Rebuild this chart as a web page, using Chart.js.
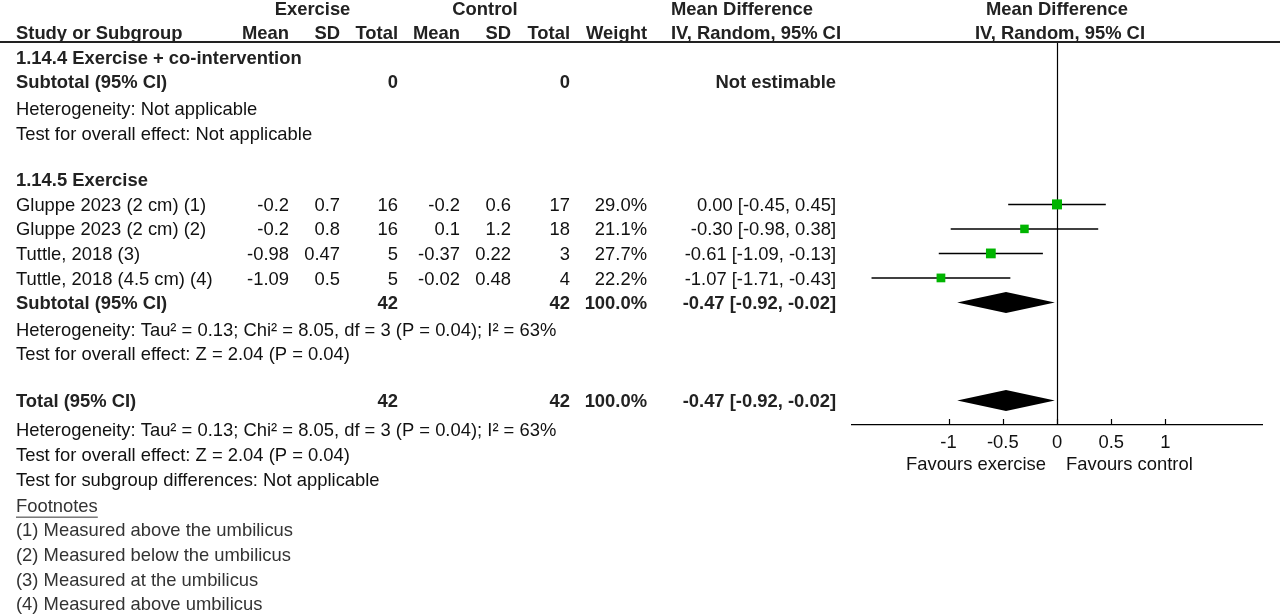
<!DOCTYPE html>
<html lang="en">
<head>
<meta charset="UTF-8">
<title>Forest plot – Exercise vs Control</title>
<script src="https://cdn.jsdelivr.net/npm/chart.js"></script>
<style>
body{margin:0;background:#fff}
#wrap{width:1280px;height:614px;position:relative}
</style>
</head>
<body>
<div id="wrap"><canvas id="forest" width="1280" height="614"></canvas></div>
<script>
/* --- Study data --- */
const studies  = ['Gluppe 2023 (2 cm) (1)','Gluppe 2023 (2 cm) (2)','Tuttle, 2018 (3)','Tuttle, 2018 (4.5 cm) (4)'];
const exMean   = [-0.2,-0.2,-0.98,-1.09];
const exSD     = [0.7,0.8,0.47,0.5];
const exN      = [16,16,5,5];
const ctlMean  = [-0.2,0.1,-0.37,-0.02];
const ctlSD    = [0.6,1.2,0.22,0.48];
const ctlN     = [17,18,3,4];
const weights  = [29.0,21.1,27.7,22.2];
const md       = [0.00,-0.30,-0.61,-1.07];
const ciLow    = [-0.45,-0.98,-1.09,-1.71];
const ciHigh   = [0.45,0.38,-0.13,-0.43];
const studyRows= [8,9,10,11];

/* --- Pooled estimates (subtotal, total) --- */
const pooledLabels = ['Subtotal (95% CI)','Total (95% CI)'];
const pooledExN    = [42,42];
const pooledCtlN   = [42,42];
const pooledWeight = [100.0,100.0];
const pooledMD     = [-0.47,-0.47];
const pooledLow    = [-0.92,-0.92];
const pooledHigh   = [-0.02,-0.02];
const pooledRows   = [12,16];

/* --- Axis --- */
const xTicks = [-1,-0.5,0,0.5,1];
const xLeftLabel = 'Favours exercise', xRightLabel = 'Favours control';

/* --- Text lines (row, text, bold) --- */
const noteLines = [
  [2,'1.14.4 Exercise + co-intervention',true],
  [4.1,'Heterogeneity: Not applicable',false],
  [5.1,'Test for overall effect: Not applicable',false],
  [7,'1.14.5 Exercise',true],
  [13.1,'Heterogeneity: Tau² = 0.13; Chi² = 8.05, df = 3 (P = 0.04); I² = 63%',false],
  [14.1,'Test for overall effect: Z = 2.04 (P = 0.04)',false],
  [17.2,'Heterogeneity: Tau² = 0.13; Chi² = 8.05, df = 3 (P = 0.04); I² = 63%',false],
  [18.2,'Test for overall effect: Z = 2.04 (P = 0.04)',false],
  [19.2,'Test for subgroup differences: Not applicable',false]
];
const footnotes = ['(1) Measured above the umbilicus','(2) Measured below the umbilicus','(3) Measured at the umbilicus','(4) Measured above umbilicus'];

/* --- Layout --- */
const FONT = '"Liberation Sans", Arial, Helvetica, sans-serif';
const SIZE = 18.4;
const COL = {study:16, exMean:289, exSD:340, exN:398, ctlMean:460, ctlSD:511, ctlN:570, weight:647, md:836, mdHead:671};

function put(ctx,s,x,y,align,bold,color){
  ctx.font=(bold?'bold ':'')+SIZE+'px '+FONT;
  ctx.fillStyle=color||(bold?'#222':'#111');
  ctx.textAlign=align; ctx.textBaseline='middle';
  ctx.fillText(s,x,y);
}
const ci = (m,l,h)=>`${m.toFixed(2)} [${l.toFixed(2)}, ${h.toFixed(2)}]`;

/* --- Forest extras: zero line, up ticks, diamonds --- */
const forestPlugin={
  id:'forest',
  beforeDatasetsDraw(chart){
    const {ctx,chartArea:a,scales:{x}}=chart;
    ctx.save(); ctx.strokeStyle='#000'; ctx.lineWidth=1.2;
    const x0=Math.round(x.getPixelForValue(0))+0.5;
    ctx.beginPath(); ctx.moveTo(x0,a.top); ctx.lineTo(x0,a.bottom); ctx.stroke();
    xTicks.forEach(v=>{
      const px=Math.round(x.getPixelForValue(v))+0.5;
      ctx.beginPath(); ctx.moveTo(px,a.bottom-6); ctx.lineTo(px,a.bottom); ctx.stroke();
    });
    ctx.restore();
  },
  afterDatasetsDraw(chart){
    const {ctx,scales:{x,y}}=chart;
    ctx.save(); ctx.fillStyle='#000';
    pooledRows.forEach((r,i)=>{
      const py=y.getPixelForValue(r), h=10.5;
      ctx.beginPath();
      ctx.moveTo(x.getPixelForValue(pooledLow[i]),py);
      ctx.lineTo(x.getPixelForValue(pooledMD[i]),py-h);
      ctx.lineTo(x.getPixelForValue(pooledHigh[i]),py);
      ctx.lineTo(x.getPixelForValue(pooledMD[i]),py+h);
      ctx.closePath(); ctx.fill();
    });
    ctx.restore();
  }
};

/* --- Table text --- */
const tablePlugin={
  id:'table',
  afterDraw(chart){
    const {ctx,chartArea:a,scales:{x,y}}=chart;
    const row=r=>y.getPixelForValue(r)+1.5;
    ctx.save();
    ctx.strokeStyle='#222'; ctx.lineWidth=2;
    ctx.beginPath(); ctx.moveTo(0,a.top); ctx.lineTo(1280,a.top); ctx.stroke();

    // headers
    put(ctx,'Exercise',312.5,row(0),'center',true);
    put(ctx,'Control',485,row(0),'center',true);
    put(ctx,'Mean Difference',COL.mdHead,row(0),'left',true);
    put(ctx,'Mean Difference',x.getPixelForValue(0),row(0),'center',true);
    put(ctx,'Study or Subgroup',COL.study,row(1),'left',true);
    [['Mean',COL.exMean],['SD',COL.exSD],['Total',COL.exN],['Mean',COL.ctlMean],['SD',COL.ctlSD],['Total',COL.ctlN],['Weight',COL.weight]]
      .forEach(([t,c])=>put(ctx,t,c,row(1),'right',true));
    put(ctx,'IV, Random, 95% CI',COL.mdHead,row(1),'left',true);
    put(ctx,'IV, Random, 95% CI',x.getPixelForValue(0)+3,row(1),'center',true);

    // empty subgroup
    put(ctx,'Subtotal (95% CI)',COL.study,row(3),'left',true);
    put(ctx,'0',COL.exN,row(3),'right',true);
    put(ctx,'0',COL.ctlN,row(3),'right',true);
    put(ctx,'Not estimable',COL.md,row(3),'right',true);

    // studies
    studies.forEach((s,i)=>{
      const py=row(studyRows[i]);
      put(ctx,s,COL.study,py,'left');
      put(ctx,String(exMean[i]),COL.exMean,py,'right');
      put(ctx,String(exSD[i]),COL.exSD,py,'right');
      put(ctx,String(exN[i]),COL.exN,py,'right');
      put(ctx,String(ctlMean[i]),COL.ctlMean,py,'right');
      put(ctx,String(ctlSD[i]),COL.ctlSD,py,'right');
      put(ctx,String(ctlN[i]),COL.ctlN,py,'right');
      put(ctx,weights[i].toFixed(1)+'%',COL.weight,py,'right');
      put(ctx,ci(md[i],ciLow[i],ciHigh[i]),COL.md,py,'right');
    });

    // pooled rows
    pooledLabels.forEach((s,i)=>{
      const py=row(pooledRows[i]);
      put(ctx,s,COL.study,py,'left',true);
      put(ctx,String(pooledExN[i]),COL.exN,py,'right',true);
      put(ctx,String(pooledCtlN[i]),COL.ctlN,py,'right',true);
      put(ctx,pooledWeight[i].toFixed(1)+'%',COL.weight,py,'right',true);
      put(ctx,ci(pooledMD[i],pooledLow[i],pooledHigh[i]),COL.md,py,'right',true);
    });

    noteLines.forEach(([r,t,b])=>put(ctx,t,COL.study,row(r),'left',b));

    // footnotes
    const fy=row(20.27);
    put(ctx,'Footnotes',COL.study,fy,'left',false,'#333');
    const w=ctx.measureText('Footnotes').width;
    ctx.strokeStyle='#333'; ctx.lineWidth=1;
    ctx.beginPath(); ctx.moveTo(COL.study,fy+10.5); ctx.lineTo(COL.study+w,fy+10.5); ctx.stroke();
    footnotes.forEach((t,i)=>put(ctx,t,COL.study,row(21.27+i*1.005),'left',false,'#333'));

    // favours labels
    const x0=x.getPixelForValue(0), ly=a.bottom+40;
    put(ctx,xLeftLabel,x0-11,ly,'right');
    put(ctx,xRightLabel,x0+9,ly,'left');
    ctx.restore();
  }
};

/* --- Datasets --- */
const squares={
  data:studies.map((s,i)=>({x:md[i],y:studyRows[i]})),
  pointStyle:'rect',
  pointRadius:weights.map(w=>Math.sqrt(w)*1.857/Math.SQRT2),
  backgroundColor:'#00b400',borderWidth:0
};
const ciLines=studies.map((s,i)=>({
  data:[{x:ciLow[i],y:studyRows[i]},{x:ciHigh[i],y:studyRows[i]}],
  showLine:true,pointRadius:0,borderColor:'#000',borderWidth:1.5
}));

new Chart(document.getElementById('forest'),{
  type:'scatter',
  data:{datasets:[squares,...ciLines]},
  options:{
    responsive:false,animation:false,
    layout:{padding:{left:852,right:18,top:42,bottom:159}},
    plugins:{legend:{display:false},tooltip:{enabled:false}},
    scales:{
      x:{type:'linear',min:-1.89,max:1.89,
         grid:{display:false},border:{display:true,color:'#000',width:1.2},
         afterBuildTicks:s=>{s.ticks=xTicks.map(v=>({value:v}));},
         afterFit:s=>{s.height=30;},
         ticks:{color:'#111',font:{family:FONT,size:SIZE},padding:-1,autoSkip:false,maxRotation:0,callback:v=>String(v)}},
      y:{type:'linear',reverse:true,min:1.375,max:17.0,display:false}
    }
  },
  plugins:[forestPlugin,tablePlugin]
});
</script>
</body>
</html>
